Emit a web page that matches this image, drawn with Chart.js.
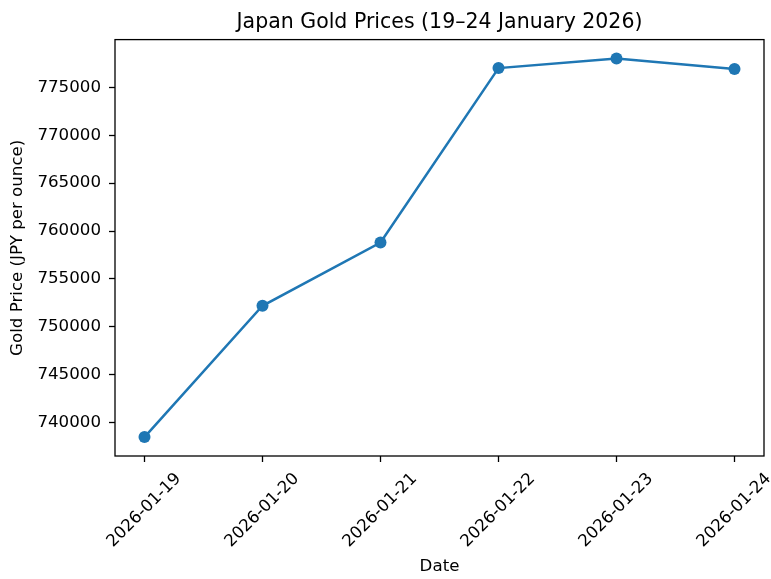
<!DOCTYPE html>
<html>
<head>
<meta charset="utf-8">
<script src="https://cdn.jsdelivr.net/npm/chart.js@4.4.1/dist/chart.umd.min.js"></script>
<style>
  html, body { margin: 0; padding: 0; background: #ffffff; }
  #wrap { width: 771px; height: 579px; }
</style>
</head>
<body>
<div id="wrap"><canvas id="c" width="771" height="579"></canvas></div>
<script>
const dates = ['2026-01-19', '2026-01-20', '2026-01-21', '2026-01-22', '2026-01-23', '2026-01-24'];
const prices = [738500, 752200, 758800, 777000, 778000, 776900];
const yTicks = [740000, 745000, 750000, 755000, 760000, 765000, 770000, 775000];
const titleText = 'Japan Gold Prices (19–24 January 2026)';
const xLabel = 'Date';
const yLabel = 'Gold Price (JPY per ounce)';

const FONT = 'DejaVu Sans';
const pMin = Math.min(...prices), pMax = Math.max(...prices);
const pRange = pMax - pMin;
const yMin = pMin - 0.05 * pRange, yMax = pMax + 0.05 * pRange;
const xMin = -0.05 * (dates.length - 1), xMax = (dates.length - 1) * 1.05;

const frame = {
  id: 'frame',
  afterDraw(chart) {
    const {ctx, chartArea: a} = chart;
    ctx.save();
    ctx.strokeStyle = '#000000';
    ctx.lineWidth = 1.3;
    ctx.strokeRect(a.left, a.top, a.right - a.left, a.bottom - a.top);
    ctx.restore();
  }
};

new Chart(document.getElementById('c'), {
  type: 'line',
  data: {
    datasets: [{
      data: prices.map((p, i) => ({x: i, y: p})),
      borderColor: '#1f77b4',
      backgroundColor: '#1f77b4',
      borderWidth: 2.5,
      pointRadius: 6,
      pointHoverRadius: 6,
      pointBackgroundColor: '#1f77b4',
      pointBorderWidth: 0,
      tension: 0,
      fill: false
    }]
  },
  options: {
    responsive: false,
    animation: false,
    devicePixelRatio: 1,
    layout: { padding: { left: 0, right: 7, top: 0, bottom: 0 } },
    plugins: {
      legend: { display: false },
      tooltip: { enabled: false },
      title: {
        display: true,
        fullSize: false,
        text: titleText,
        color: '#000000',
        font: { family: FONT, size: 20.5, weight: 'normal', lineHeight: 1.2 },
        padding: { top: 10, bottom: 5 }
      }
    },
    scales: {
      x: {
        type: 'linear',
        min: xMin,
        max: xMax,
        afterBuildTicks(scale) { scale.ticks = dates.map((d, i) => ({value: i})); },
        afterFit(scale) { scale.height = 123; },
        grid: { display: true, drawOnChartArea: false, drawTicks: true, tickLength: 6, tickColor: '#000000', tickWidth: 1.3 },
        border: { display: false },
        ticks: {
          autoSkip: false,
          minRotation: 45,
          maxRotation: 45,
          padding: 7,
          labelOffset: 34,
          color: '#000000',
          font: { family: FONT, size: 16.67 },
          callback: (v) => dates[v]
        },
        title: {
          display: true,
          text: xLabel,
          color: '#000000',
          font: { family: FONT, size: 16.67, lineHeight: 1.2 },
          padding: { top: 0, bottom: 2 }
        }
      },
      y: {
        min: yMin,
        max: yMax,
        afterBuildTicks(scale) { scale.ticks = yTicks.map(v => ({value: v})); },
        afterFit(scale) { scale.width = 115; },
        grid: { display: true, drawOnChartArea: false, drawTicks: true, tickLength: 6, tickColor: '#000000', tickWidth: 1.3 },
        border: { display: false },
        ticks: {
          padding: 8,
          color: '#000000',
          font: { family: FONT, size: 16.67 },
          callback: (v) => String(v)
        },
        title: {
          display: true,
          text: yLabel,
          color: '#000000',
          font: { family: FONT, size: 16.67, lineHeight: 1.2 },
          padding: { top: 8, bottom: 0 }
        }
      }
    }
  },
  plugins: [frame]
});
</script>
</body>
</html>
